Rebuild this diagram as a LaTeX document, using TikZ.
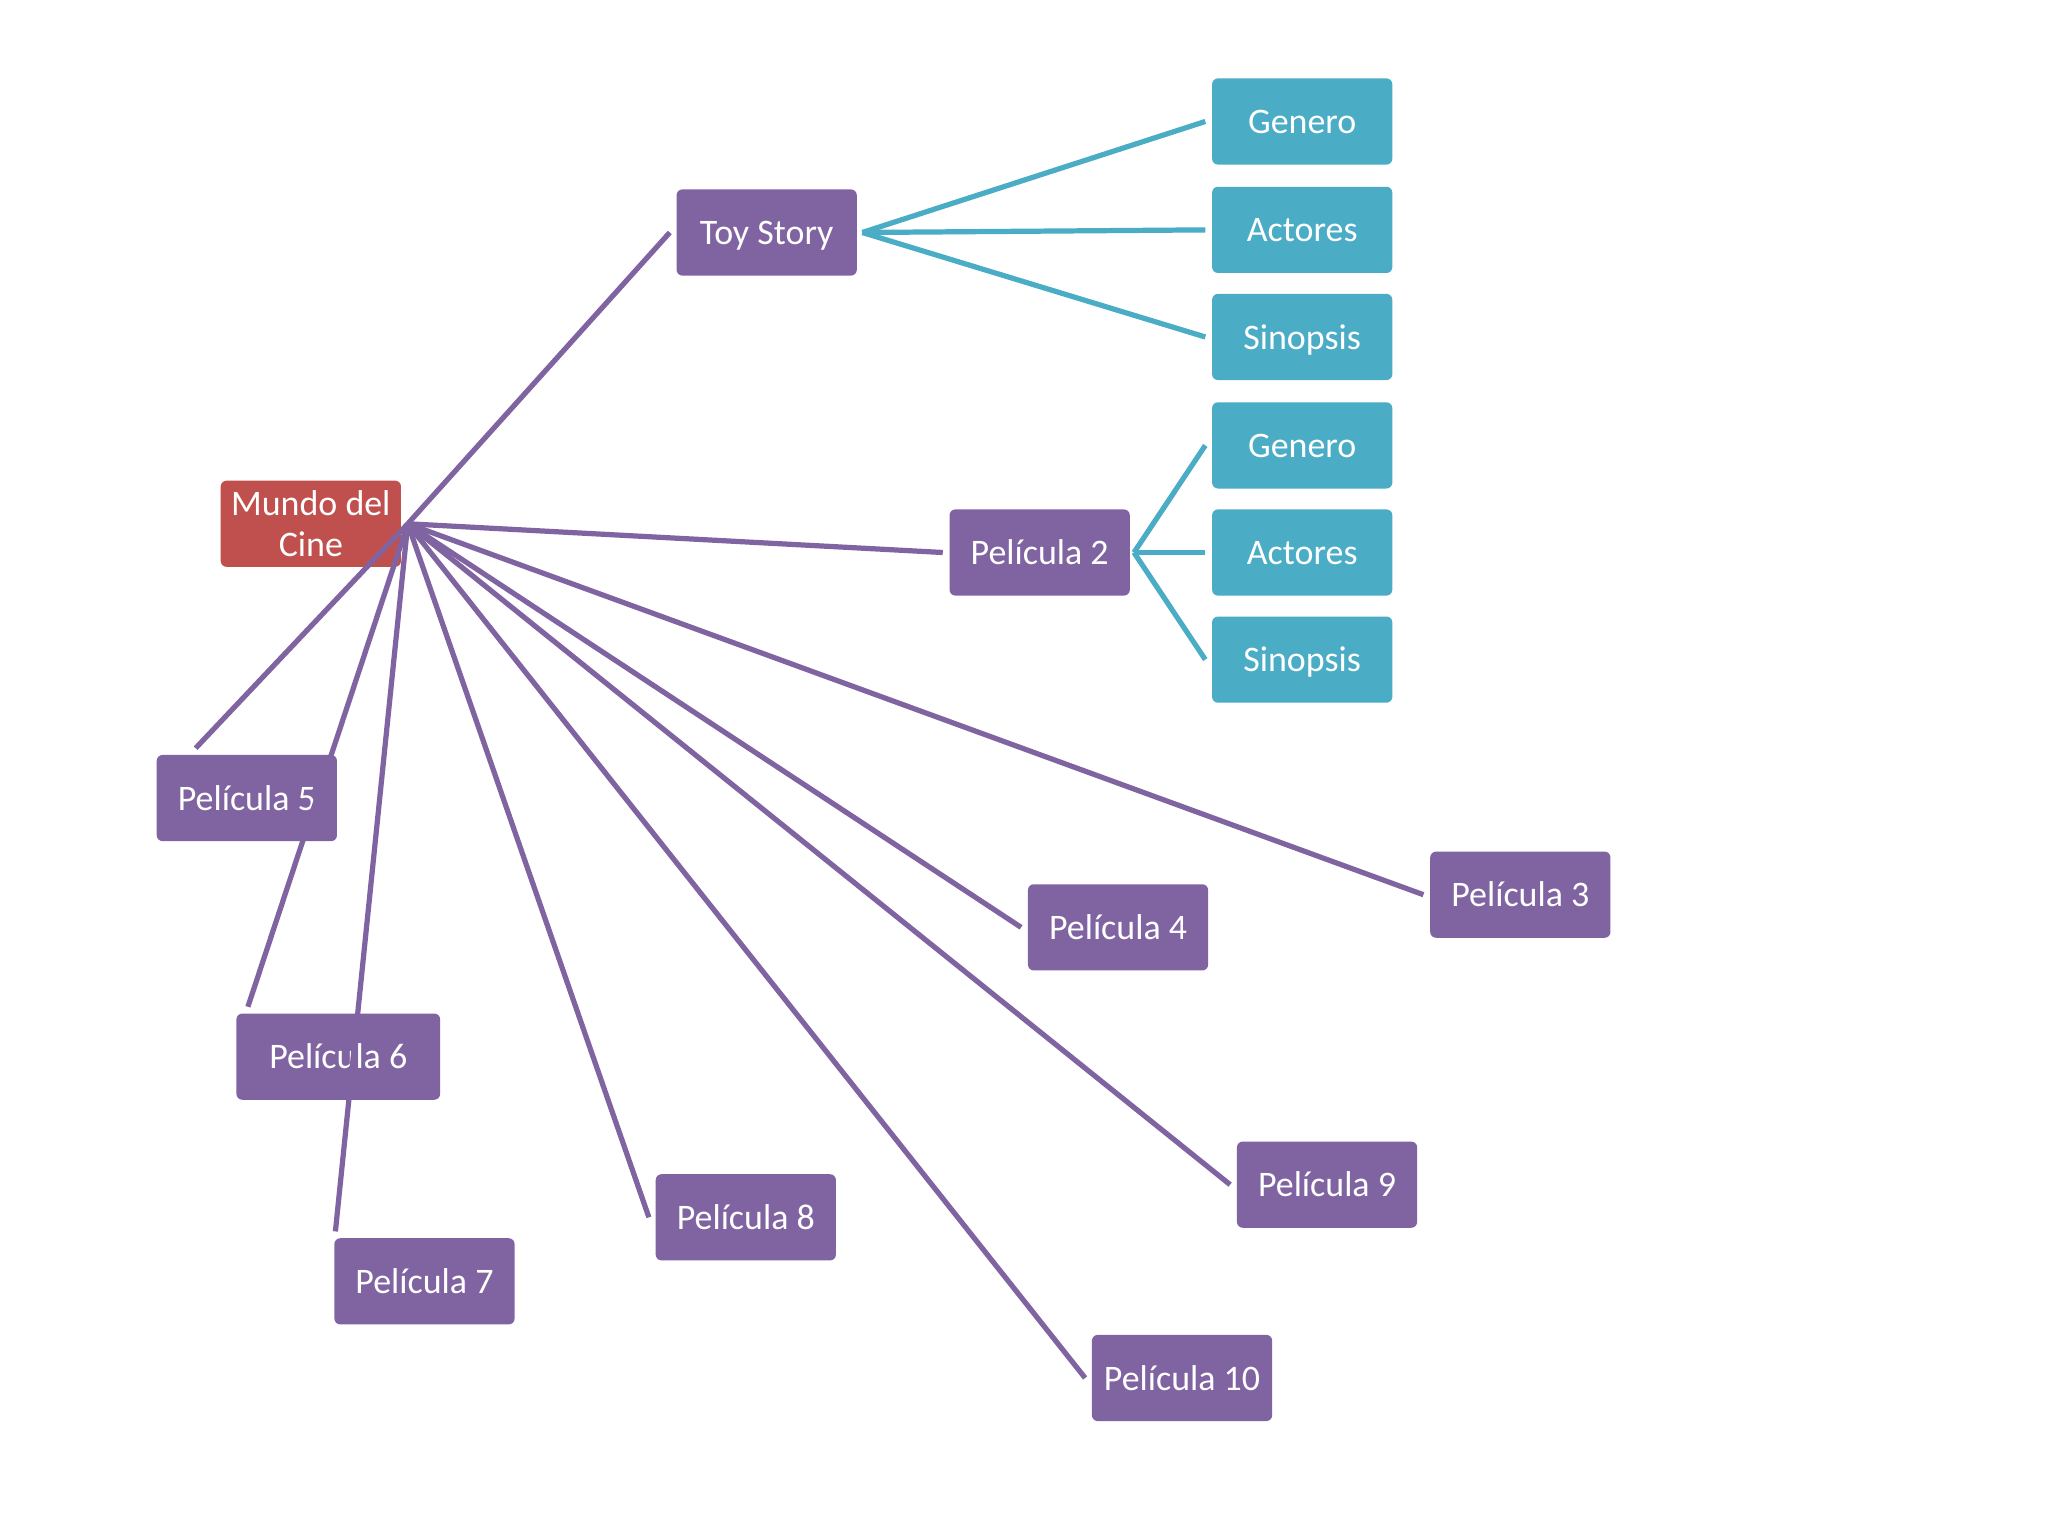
\documentclass[tikz,border=0pt]{standalone}
\usepackage{fontspec}
\setmainfont{Carlito}
\definecolor{purp}{HTML}{8064A2}
\definecolor{aqua}{HTML}{4BACC6}
\definecolor{redc}{HTML}{C0504D}
\begin{document}
\begin{tikzpicture}[x=1pt,y=-1pt,
  box/.style={rectangle, rounded corners=4.5pt, minimum width=138pt, minimum height=66pt,
    inner sep=0pt, text=white, font=\fontsize{27.5}{31}\selectfont, align=center},
  onel/.style={text height=18.4pt, text depth=0pt},
  pbox/.style={box, onel, fill=purp},
  bbox/.style={box, onel, fill=aqua},
  rbox/.style={box, fill=redc},
  pline/.style={draw=purp, line width=4pt},
  bline/.style={draw=aqua, line width=4pt}]
\useasboundingbox (0,0) rectangle (1568,1176);
\fill[white] (0,0) rectangle (1568,1176);

% nodes
\node[rbox] (mundo) at (238,401) {Mundo del\\Cine};
\node[pbox] (toy) at (587,178) {Toy Story};
\node[bbox] (g1) at (997,93) {Genero};
\node[bbox] (a1) at (997,176) {Actores};
\node[bbox] (s1) at (997,258) {Sinopsis};
\node[bbox] (g2) at (997,341) {Genero};
\node[bbox] (a2) at (997,423) {Actores};
\node[bbox] (s2) at (997,505) {Sinopsis};
\node[pbox] (p2) at (796,423) {Película 2};
\node[pbox] (p3) at (1164,685) {Película 3};
\node[pbox] (p4) at (856,710) {Película 4};
\node[pbox] (p5) at (189,611) {Película 5};
\node[pbox, minimum width=156pt] (p6) at (259,809) {Película 6};
\node[pbox] (p7) at (325,981) {Película 7};
\node[pbox] (p8) at (571,932) {Película 8};
\node[pbox] (p9) at (1016,907) {Película 9};
\node[pbox] (p10) at (905,1055) {Película 10};

% connector end points
\coordinate (hub) at ([xshift=5pt]mundo.east);
\coordinate (thub) at ([xshift=4pt]toy.east);
\coordinate (phub) at ([xshift=3pt]p2.east);
\coordinate (e5) at ([shift={(30pt,5pt)}]p5.north west);
\coordinate (e6) at ([shift={(9pt,5pt)}]p6.north west);
\coordinate (e7) at ([shift={(1pt,5pt)}]p7.north west);

% purple connectors
\draw[pline] (hub) -- ([xshift=-5pt]toy.west);
\draw[pline] (hub) -- ([xshift=-5pt]p2.west);
\draw[pline] (hub) -- ([xshift=-5pt]p3.west);
\draw[pline] (hub) -- ([xshift=-5pt]p4.west);
\draw[pline] (hub) -- (e5);
\draw[pline] (hub) -- (e6);
\draw[pline] (hub) -- (e7);
\draw[pline] (hub) -- ([xshift=-5pt]p8.west);
\draw[pline] (hub) -- ([xshift=-5pt]p9.west);
\draw[pline] (hub) -- ([xshift=-5pt]p10.west);

% blue connectors
\draw[bline] (thub) -- ([xshift=-5pt]g1.west);
\draw[bline] (thub) -- ([xshift=-5pt]a1.west);
\draw[bline] (thub) -- ([xshift=-5pt]s1.west);
\draw[bline] (phub) -- ([xshift=-5pt]g2.west);
\draw[bline] (phub) -- ([xshift=-5pt]a2.west);
\draw[bline] (phub) -- ([xshift=-5pt]s2.west);
\end{tikzpicture}
\end{document}
